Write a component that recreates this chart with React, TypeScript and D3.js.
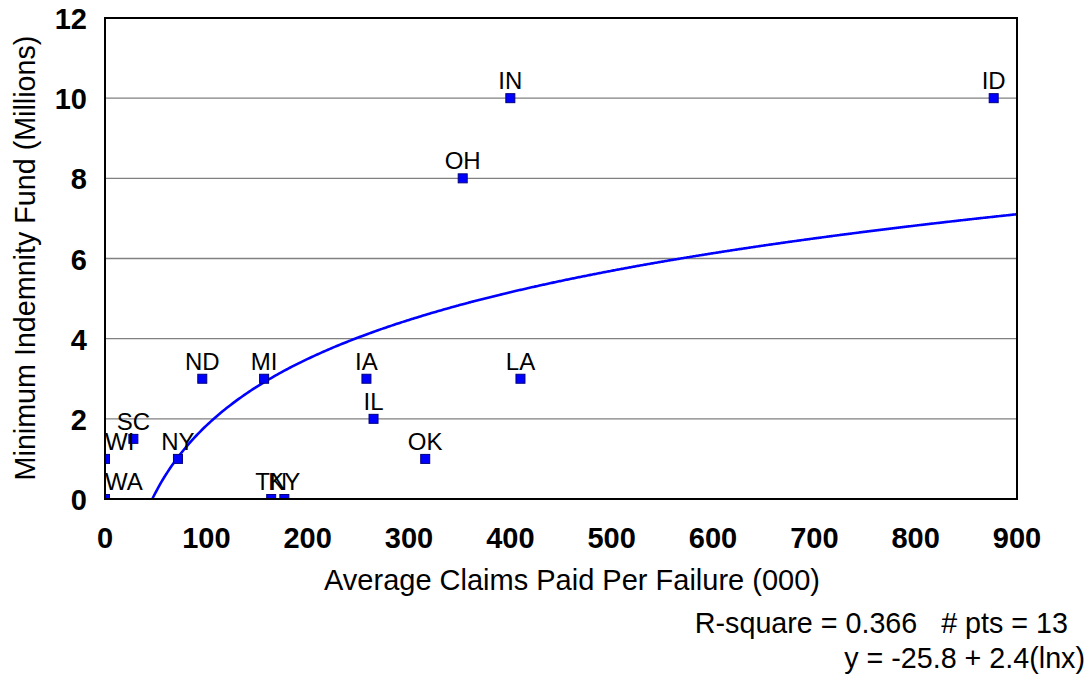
import React from "react";
import * as d3 from "d3";

const states = ["WA", "WI", "SC", "NY", "ND", "MI", "TN", "KY", "IA", "IL", "OK", "LA", "OH", "IN", "ID"];
const claimsPaid = [0, 0, 28, 72, 96, 157, 164, 177, 258, 265, 316, 410, 353, 400, 877];
const minFund = [0, 1, 1.5, 1, 3, 3, 0, 0, 3, 2, 1, 3, 8, 10, 10];
const xTicks = [0, 100, 200, 300, 400, 500, 600, 700, 800, 900];
const yTicks = [0, 2, 4, 6, 8, 10, 12];
const fitIntercept = -25.8;
const fitSlope = 2.4;

const W = 1090, H = 675;
const L = 105, R = 1017, T = 18, B = 499;

export default function App() {
  const x = d3.scaleLinear().domain([0, 900]).range([L, R]);
  const y = d3.scaleLinear().domain([0, 12]).range([B, T]);
  const fitXs = d3.range(40, 901, 2);
  const fitPts = fitXs
    .map((v) => [v, fitIntercept + fitSlope * Math.log(v * 1000)] as [number, number])
    .filter((p) => p[1] >= -0.2);
  const line = d3
    .line<[number, number]>()
    .x((d) => x(d[0]))
    .y((d) => y(d[1]))
    .curve(d3.curveMonotoneX);
  const font = "'Liberation Sans', Arial, sans-serif";
  return (
    <svg width={W} height={H} style={{ position: "absolute", left: 0, top: 0, background: "#fff", whiteSpace: "pre" }} fontFamily={font}>
      <defs>
        <clipPath id="plot">
          <rect x={L} y={T} width={R - L} height={B - T} />
        </clipPath>
      </defs>
      <rect x={0} y={0} width={W} height={H} fill="#fff" />
      {yTicks.filter((t) => t > 0 && t < 12).map((t) => (
        <line key={t} x1={L} x2={R} y1={y(t)} y2={y(t)} stroke="#808080" strokeWidth={1.3} />
      ))}
      <g clipPath="url(#plot)">
        <path d={line(fitPts) || ""} fill="none" stroke="#0000FF" strokeWidth={2.6} />
        {states.map((s, i) => (
          <rect key={s} x={x(claimsPaid[i]) - 4.5} y={y(minFund[i]) - 4.5} width={9} height={9} fill="#0000FF" stroke="#000080" strokeWidth={1} />
        ))}
      </g>
      {states.map((s, i) => {
        const px = x(claimsPaid[i]);
        const nearLeft = px - 14 < L;
        return (
          <text key={s} x={nearLeft ? L : px} y={y(minFund[i]) - 9} textAnchor={nearLeft ? "start" : "middle"} fontSize={24} fill="#000">
            {s}
          </text>
        );
      })}
      <rect x={L} y={T} width={R - L} height={B - T} fill="none" stroke="#000" strokeWidth={2} />
      {xTicks.map((t) => (
        <text key={t} x={x(t)} y={548} textAnchor="middle" fontSize={29} fontWeight="bold">
          {t}
        </text>
      ))}
      {yTicks.map((t) => (
        <text key={t} x={87} y={y(t) + 11} textAnchor="end" fontSize={29} fontWeight="bold">
          {t}
        </text>
      ))}
      <text x={572} y={590} textAnchor="middle" fontSize={29}>
        Average Claims Paid Per Failure (000)
      </text>
      <text transform={`translate(35,258) rotate(-90)`} textAnchor="middle" fontSize={28.7}>
        Minimum Indemnity Fund (Millions)
      </text>
      <text x={1068} y={633} textAnchor="end" fontSize={28.7} xmlSpace="preserve">
        {"R-square = 0.366   # pts = 13"}
      </text>
      <text x={1085} y={668} textAnchor="end" fontSize={28.7}>
        {"y = -25.8 + 2.4(lnx)"}
      </text>
    </svg>
  );
}
